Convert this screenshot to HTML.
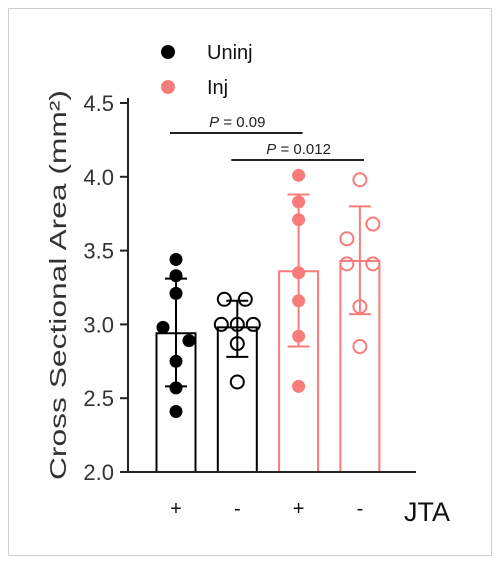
<!DOCTYPE html>
<html><head><meta charset="utf-8"><style>
body{margin:0;background:#fff;font-family:"Liberation Sans",sans-serif}
</style></head><body>
<svg id="chart" width="500" height="564" xmlns="http://www.w3.org/2000/svg" font-family="Liberation Sans, sans-serif">
<rect x="8.5" y="8.5" width="483" height="547" fill="#fff" stroke="#d0d0d0"/>
</svg>
<script>
const categories=["Uninj +","Uninj -","Inj +","Inj -"];
const xLabels=["+","-","+","-"];
const means=[2.94,2.98,3.36,3.43];
const sdHi=[3.31,3.16,3.88,3.80];
const sdLo=[2.58,2.78,2.85,3.07];
const pts0=[3.44,3.33,3.21,2.98,2.89,2.75,2.57,2.41];
const pts1=[3.17,3.17,3.0,3.0,3.0,2.87,2.61];
const pts2=[4.01,3.83,3.71,3.35,3.16,2.92,2.58];
const pts3=[3.98,3.68,3.58,3.41,3.41,3.12,2.85];
const yTicks=[2.0,2.5,3.0,3.5,4.0,4.5];
const pvals=["P = 0.09","P = 0.012"];

const svg=document.getElementById('chart');
const NS="http://www.w3.org/2000/svg";
function el(t,a,txt){const e=document.createElementNS(NS,t);for(const k in a)e.setAttribute(k,a[k]);if(txt!=null)e.textContent=txt;svg.appendChild(e);return e;}
const y=v=>472-(v-2)*147.6;
const x=i=>176+i*61.3;
const colors=["#000","#000","#f87c7c","#f87c7c"];
const filled=[true,false,true,false];
const offs0=[0,0,0,-13,13,0,0,0],offs1=[-13,8,-16,0,16,0,0],offs3=[0,13,-13,-13,13,0,0];
const allPts=[pts0,pts1,pts2,pts3];
const offs=[offs0,offs1,pts2.map(()=>0),offs3];
for(let i=0;i<4;i++){
  const c=colors[i],cx=x(i);
  const b=el('rect',{x:cx-19.5,y:y(means[i]),width:39,height:472-y(means[i]),fill:'none',stroke:c,'stroke-width':2});
  
  
  const e=el('path',{d:`M${cx},${y(sdLo[i])}V${y(sdHi[i])}M${cx-11},${y(sdHi[i])}H${cx+11}M${cx-11},${y(sdLo[i])}H${cx+11}`,stroke:c,'stroke-width':2,fill:'none'});
  
  
  allPts[i].forEach((v,j)=>{
    const p=el('circle',{cx:cx+(offs[i][j]||0),cy:y(v),r:6.5,fill:filled[i]?c:'none',stroke:c,'stroke-width':filled[i]?0:2});
    
    
  });
  const t=el('text',{x:cx,y:515,'text-anchor':'middle','font-size':20,fill:'#111'},xLabels[i]);
  
  
}
const ax=el('path',{d:'M128,98V472H416',stroke:'#222','stroke-width':2,fill:'none'});


yTicks.forEach(v=>{
  const tk=el('path',{d:`M120,${y(v)}H128`,stroke:'#222','stroke-width':2});
  
  
  const t=el('text',{x:114,y:y(v)+8,'text-anchor':'end','font-size':22,fill:'#333'},v.toFixed(1));
  
  
});
const yt=el('text',{x:0,y:0,transform:'translate(66,285) rotate(-90)','text-anchor':'middle','font-size':23,fill:'#333',textLength:390,lengthAdjust:'spacingAndGlyphs'},'Cross  Sectional Area  (mm²)');


const jta=el('text',{x:404,y:521,'font-size':27,fill:'#111'},'JTA');


const sig=[[0,2,133],[1,3,160]];
sig.forEach((s,k)=>{
  const l=el('path',{d:`M${x(s[0])-6},${s[2]}H${x(s[1])+4}`,stroke:'#222','stroke-width':2});
  
  
  const t=el('text',{x:(x(s[0])+x(s[1]))/2,y:s[2]-6,'text-anchor':'middle','font-size':15,fill:'#222'});
  t.innerHTML='<tspan font-style="italic">P</tspan>'+pvals[k].slice(1);
  
  
});
[["Uninj","#000",52],["Inj","#f87c7c",87]].forEach(d=>{
  const c=el('circle',{cx:168,cy:d[2],r:7,fill:d[1]});
  
  
  const t=el('text',{x:207,y:d[2]+7,'font-size':20,fill:'#111'},d[0]);
  
  
});
</script>
</body></html>
